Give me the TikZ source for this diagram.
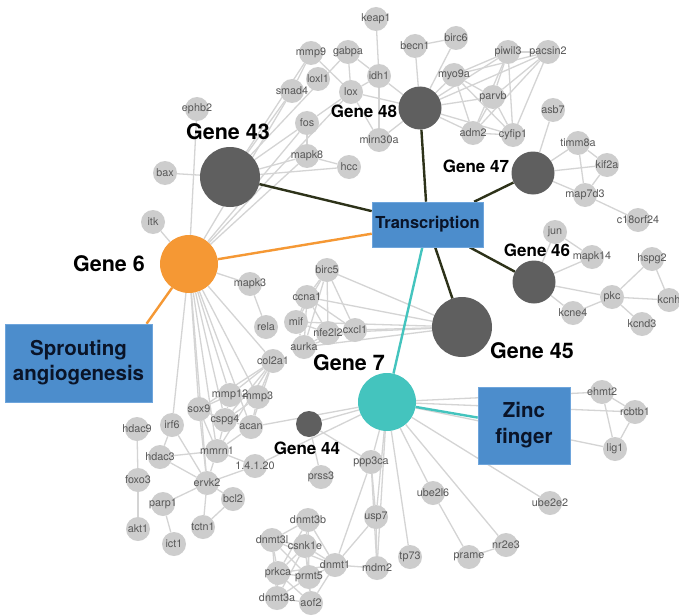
\documentclass[tikz,border=0pt]{standalone}
\usepackage{fontspec}
\setmainfont{TeX Gyre Heros}
\pgfdeclarelayer{bg}
\pgfdeclarelayer{fg}
\pgfsetlayers{bg,main,fg}
\definecolor{nodegray}{RGB}{205,205,205}
\definecolor{lblgray}{RGB}{88,88,88}
\definecolor{edgegray}{RGB}{212,212,212}
\definecolor{gdark}{RGB}{95,95,95}
\definecolor{gorange}{RGB}{245,152,52}
\definecolor{gteal}{RGB}{68,196,190}
\definecolor{boxblue}{RGB}{76,141,204}
\definecolor{boxedge}{RGB}{110,165,220}
\definecolor{boxtext}{RGB}{10,20,40}
\definecolor{linkdark}{RGB}{45,50,25}
\tikzset{
  gn/.style={circle, fill=nodegray, minimum size=24pt, inner sep=0pt},
  gl/.style={inner sep=0pt, text=lblgray, font=\fontsize{10.8}{12}\selectfont},
  bigc/.style={circle, inner sep=0pt, minimum size=#1},
  labbig/.style={inner sep=0pt, font=\bfseries\fontsize{21.5}{24}\selectfont},
  labmed/.style={inner sep=0pt, font=\bfseries\fontsize{17}{20}\selectfont},
  termbox/.style={fill=boxblue, draw=boxedge, line width=0.6pt, align=center, inner sep=0pt, text=boxtext},
  edge/.style={draw=edgegray, line width=1.3pt},
  link/.style={line width=2.4pt}
}
\newcommand\gnode[3]{\node[gn] (#1) at (#2) {};\begin{pgfonlayer}{fg}\node[gl] (#1l) at (#1) {#3};\end{pgfonlayer}}
\begin{document}
\begin{tikzpicture}[x=1pt,y=-1pt]
\useasboundingbox (0,0) rectangle (679,615);
\begin{pgfonlayer}{bg}
\fill[white] (0,0) rectangle (679,615);
\end{pgfonlayer}
% gray nodes
\gnode{ephb}{197,109}{ephb2}
\gnode{bax}{165,173}{bax}
\gnode{itk}{153,222}{itk}
\gnode{keap}{376,19}{keap1}
\gnode{mmp9}{311,53}{mmp9}
\gnode{gabpa}{348,52}{gabpa}
\gnode{becn}{415,46}{becn1}
\gnode{birc6}{456,38}{birc6}
\gnode{piwil}{508,52}{piwil3}
\gnode{pacsin}{548,52}{pacsin2}
\gnode{loxl}{318,79}{loxl1}
\gnode{idh}{379,76}{idh1}
\gnode{myo}{454,75}{myo9a}
\gnode{smad}{292,91}{smad4}
\gnode{lox}{351,92}{lox}
\gnode{parvb}{493,97}{parvb}
\gnode{asb}{553,110}{asb7}
\gnode{fos}{307,123}{fos}
\gnode{adm}{473,133}{adm2}
\gnode{cyf}{513,135}{cyfip1}
\gnode{mirn}{379,140}{mirn30a}
\gnode{timm}{578,143}{timm8a}
\gnode{mapke}{307,156}{mapk8}
\gnode{hcc}{349,167}{hcc}
\gnode{kif}{607,165}{kif2a}
\gnode{mapd}{585,195}{map7d3}
\gnode{corf}{638,220}{c18orf24}
\gnode{jun}{555,232}{jun}
\gnode{mapkf}{592,257}{mapk14}
\gnode{hspg}{652,259}{hspg2}
\gnode{birc5}{327,270}{birc5}
\gnode{mapk3}{250,284}{mapk3}
\gnode{ccna}{307,297}{ccna1}
\gnode{pkc}{612,297}{pkc}
\gnode{kcnh}{669,300}{kcnh}
\gnode{kcne}{573,313}{kcne4}
\gnode{mif}{296,322}{mif}
\gnode{kcnd}{642,324}{kcnd3}
\gnode{rela}{266,327}{rela}
\gnode{nfe}{328,333}{nfe2l2}
\gnode{cxcl}{355,330}{cxcl1}
\gnode{aurka}{304,347}{aurka}
\gnode{col}{273,361}{col2a1}
\gnode{ehmt}{602,392}{ehmt2}
\gnode{mmpt}{230,395}{mmp12}
\gnode{mmpd}{258,397}{mmp3}
\gnode{sox}{199,409}{sox9}
\gnode{rcb}{635,412}{rcbtb1}
\gnode{cspg}{225,420}{cspg4}
\gnode{irf}{172,425}{irf6}
\gnode{acan}{251,427}{acan}
\gnode{hdacn}{137,429}{hdac9}
\gnode{lig}{615,449}{lig1}
\gnode{mmrn}{217,451}{mmrn1}
\gnode{hdact}{160,457}{hdac3}
\gnode{ppp}{371,462}{ppp3ca}
\gnode{nec}{255,466}{1.4.1.20}
\gnode{prss}{321,477}{prss3}
\gnode{foxo}{138,480}{foxo3}
\gnode{ervk}{207,483}{ervk2}
\gnode{ubel}{433,493}{ube2l6}
\gnode{bcl}{233,499}{bcl2}
\gnode{ubee}{550,503}{ube2e2}
\gnode{parp}{163,504}{parp1}
\gnode{usp}{376,517}{usp7}
\gnode{dnmtb}{308,520}{dnmt3b}
\gnode{tctn}{203,527}{tctn1}
\gnode{akt}{138,529}{akt1}
\gnode{dnmtl}{272,540}{dnmt3l}
\gnode{nrte}{506,545}{nr2e3}
\gnode{csnk}{305,546}{csnk1e}
\gnode{ict}{174,544}{ict1}
\gnode{prame}{469,557}{prame}
\gnode{tps}{410,557}{tp73}
\gnode{dnmto}{335,565}{dnmt1}
\gnode{mdm}{377,568}{mdm2}
\gnode{prkca}{278,573}{prkca}
\gnode{prmt}{309,577}{prmt5}
\gnode{dnmta}{277,598}{dnmt3a}
\gnode{aof}{311,603}{aof2}
% big nodes
\node[bigc=60pt, fill=gdark] (g43) at (230,177) {};
\node[bigc=43pt, fill=gdark] (g48) at (420,108) {};
\node[bigc=43pt, fill=gdark] (g47) at (533,173) {};
\node[bigc=43pt, fill=gdark] (g46) at (534,282) {};
\node[bigc=60pt, fill=gdark] (g45) at (462,327) {};
\node[bigc=58pt, fill=gorange] (g6) at (189,264) {};
\node[bigc=58pt, fill=gteal] (g7) at (387,402) {};
\node[bigc=26pt, fill=gdark] (g44) at (309,424) {};
% labels
\node[labbig] (l43) at (228,132) {Gene 43};
\node[labmed] (l48) at (364,111) {Gene 48};
\node[labmed] (l47) at (476,166) {Gene 47};
\node[labmed] (l46) at (537,250) {Gene 46};
\node[labbig] (l45) at (532,351) {Gene 45};
\node[labbig] (l6) at (109,264) {Gene 6};
\node[labbig] (l7) at (349,363) {Gene 7};
\node[labmed] (l44) at (307,448) {Gene 44};
% boxes
\node[termbox, minimum width=111pt, minimum height=45pt, font=\bfseries\fontsize{16.5}{19}\selectfont] (trans) at (427.5,224.5) {Transcription};
\node[termbox, minimum width=147pt, minimum height=78pt, font=\bfseries\fontsize{20.5}{25}\selectfont] (sprout) at (78.5,363) {Sprouting\\angiogenesis};
\node[termbox, minimum width=92pt, minimum height=77pt, font=\bfseries\fontsize{20.5}{26}\selectfont] (zinc) at (524,425.5) {Zinc\\finger};
% edges
\begin{pgfonlayer}{bg}
\foreach \a/\b in {g43/bax, g43/smad, g43/mmp9, g43/gabpa, g43/fos, g43/mapke, g43/hcc,
  g6/ephb, g6/itk, g6/smad, g6/fos, g6/mapke, g6/loxl,
  keap/idh, gabpa/idh, gabpa/loxl, mmp9/loxl, mmp9/smad, loxl/lox, lox/idh, idh/mirn, lox/mirn,
  fos/lox, fos/mapke, mapke/hcc, idh/g48, lox/g48, mirn/g48, becn/g48, becn/birc6, birc6/g48,
  myo/g48, piwil/g48, pacsin/g48, parvb/g48, adm/g48, cyf/g48,
  myo/piwil, myo/pacsin, myo/parvb, myo/adm, myo/cyf, piwil/pacsin, piwil/parvb, piwil/adm,
  piwil/cyf, pacsin/parvb, pacsin/cyf, pacsin/adm, parvb/adm, parvb/cyf, adm/cyf,
  g47/asb, g47/timm, g47/kif, g47/mapd, timm/kif, timm/mapd, kif/mapd, mapd/corf,
  g46/jun, g46/mapkf, g46/pkc, g46/kcne, jun/mapkf, pkc/hspg, pkc/kcnh, hspg/kcnh, pkc/kcnd, pkc/kcne,
  g45/birc5, g45/ccna, g45/mif, g45/nfe, g45/cxcl, g45/aurka,
  birc5/ccna, birc5/mif, birc5/nfe, birc5/cxcl, birc5/aurka, ccna/mif, ccna/nfe, ccna/cxcl,
  ccna/aurka, mif/nfe, mif/aurka, nfe/cxcl, aurka/cxcl, aurka/nfe,
  g6/mapk3, mapk3/rela, g6/col, g6/mmpt, g6/mmpd, g6/sox, g6/cspg, g6/acan, g6/mmrn, g6/irf, g6/ervk,
  col/mmpt, col/mmpd, col/sox, col/cspg, col/acan, col/mmrn, mmpt/mmpd, mmpt/sox, mmpt/cspg,
  mmpd/cspg, mmpd/acan, sox/cspg, sox/mmrn, cspg/acan, cspg/mmrn, acan/mmrn, sox/ervk,
  irf/ervk, irf/hdact, hdact/mmrn, hdact/ervk, hdacn/foxo, foxo/akt, mmrn/ervk, ervk/parp,
  parp/ict, ervk/tctn, tctn/bcl, ervk/bcl, ervk/nec, nec/mmrn,
  g7/g44, g7/acan, g7/nec, g7/ppp, g7/usp, g7/mdm, g7/tps, g7/ubel, g7/nrte, g7/ubee,
  g7/ehmt, g7/rcb, g7/lig, g44/prss, g44/ppp,
  ppp/dnmto, ppp/usp, ppp/mdm, usp/dnmto, usp/mdm, dnmto/mdm,
  ubel/prame, prame/nrte, ehmt/rcb, ehmt/lig, rcb/lig,
  dnmtb/dnmtl, dnmtb/csnk, dnmtb/prkca, dnmtb/prmt, dnmtb/dnmto, dnmtl/csnk, dnmtl/prkca,
  dnmtl/prmt, dnmtl/dnmta, dnmtl/dnmto, csnk/prkca, csnk/prmt, csnk/dnmto, csnk/dnmta, csnk/aof,
  prkca/prmt, prkca/dnmta, prkca/aof, prkca/dnmto, prmt/dnmto, prmt/dnmta, prmt/aof,
  dnmta/aof, aof/dnmto}
  \draw[edge] (\a) -- (\b);
\draw[link, draw=linkdark] (g43) -- (trans);
\draw[link, draw=linkdark] (g48) -- (trans);
\draw[link, draw=linkdark] (g47) -- (trans);
\draw[link, draw=linkdark] (g46) -- (trans);
\draw[link, draw=linkdark] (g45) -- (trans);
\draw[link, draw=gorange] (g6) -- (trans);
\draw[link, draw=gorange] (g6) -- (sprout.30);
\draw[link, draw=gteal] (g7) -- (trans);
\draw[link, draw=gteal] (g7) -- (zinc);
\end{pgfonlayer}
\end{tikzpicture}
\end{document}
